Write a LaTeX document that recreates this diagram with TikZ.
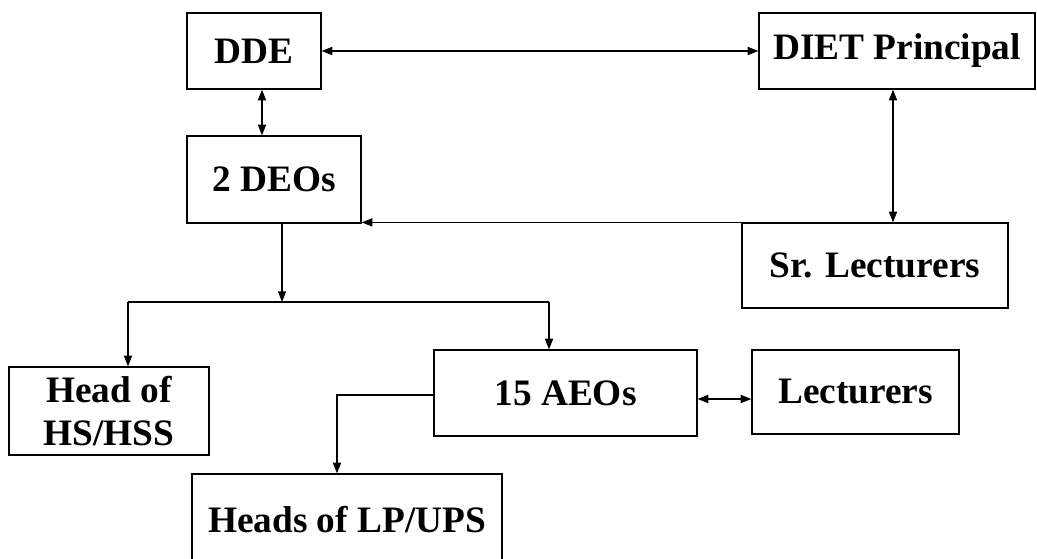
\documentclass[tikz,border=0pt]{standalone}
\usepackage{fontspec}
\setmainfont{Liberation Serif}
\usetikzlibrary{arrows.meta}
\begin{document}
\begin{tikzpicture}[x=0.75pt,y=-0.75pt,
  box/.style={draw,line width=0.9pt,inner sep=0pt,align=center,
    font=\fontsize{28}{32}\selectfont\bfseries},
  line/.style={line width=1.1pt},
  link/.style={line width=1.1pt,-{Triangle[length=8pt,width=6pt]}},
  both/.style={line width=1.1pt,{Triangle[length=8pt,width=6pt]}-{Triangle[length=8pt,width=6pt]}}]
\useasboundingbox (0,0) rectangle (1037,559);
\fill[white] (0,0) rectangle (1037,559);
\node[box,minimum width=100.5pt,minimum height=57pt] (dde) at (254,51) {DDE};
\node[box,minimum width=207pt,minimum height=57pt] (diet) at (897,51) {DIET Principal};
\node[box,minimum width=130.5pt,minimum height=65.25pt] (deos) at (274,179.5) {2 DEOs};
\node[box,minimum width=199.5pt,minimum height=63.75pt] (sr) at (875,265.5) {Sr. Lecturers};
\node[box,minimum width=150pt,minimum height=66pt] (head) at (109,411) {Head of\\HS/HSS};
\node[box,minimum width=197.25pt,minimum height=64.5pt] (aeos) at (565.5,393) {15 AEOs};
\node[box,minimum width=155.25pt,minimum height=63pt] (lect) at (855.5,392) {Lecturers};
\node[box,minimum width=232.5pt,minimum height=68.25pt] (lp) at (347,519.5) {Heads of LP/UPS};
\coordinate (split) at (282,302);
\coordinate (hl) at (128,302);
\coordinate (hr) at (549,302);
\coordinate (lpx) at (337,0);
\draw[both] (dde.east) -- (diet.west);
\draw[both] ([xshift=6pt]dde.south) -- ([xshift=6pt]dde.south |- deos.north);
\draw[both] ([xshift=-3pt]diet.south) -- ([xshift=-3pt]diet.south |- sr.north);
\draw[link] (sr.north west) -- (sr.north west -| deos.east);
\draw[link] (deos.south -| split) -- (split);
\draw[line] (hl) -- (hr);
\draw[link] (hl) -- (hl |- head.north);
\draw[link] (hr) -- (hr |- aeos.north);
\draw[both] ([yshift=-4.5pt]aeos.east) -- ([yshift=-4.5pt]aeos.east -| lect.west);
\draw[link] ([yshift=-1.5pt]aeos.west) -| (lp.north -| lpx);
\end{tikzpicture}
\end{document}
